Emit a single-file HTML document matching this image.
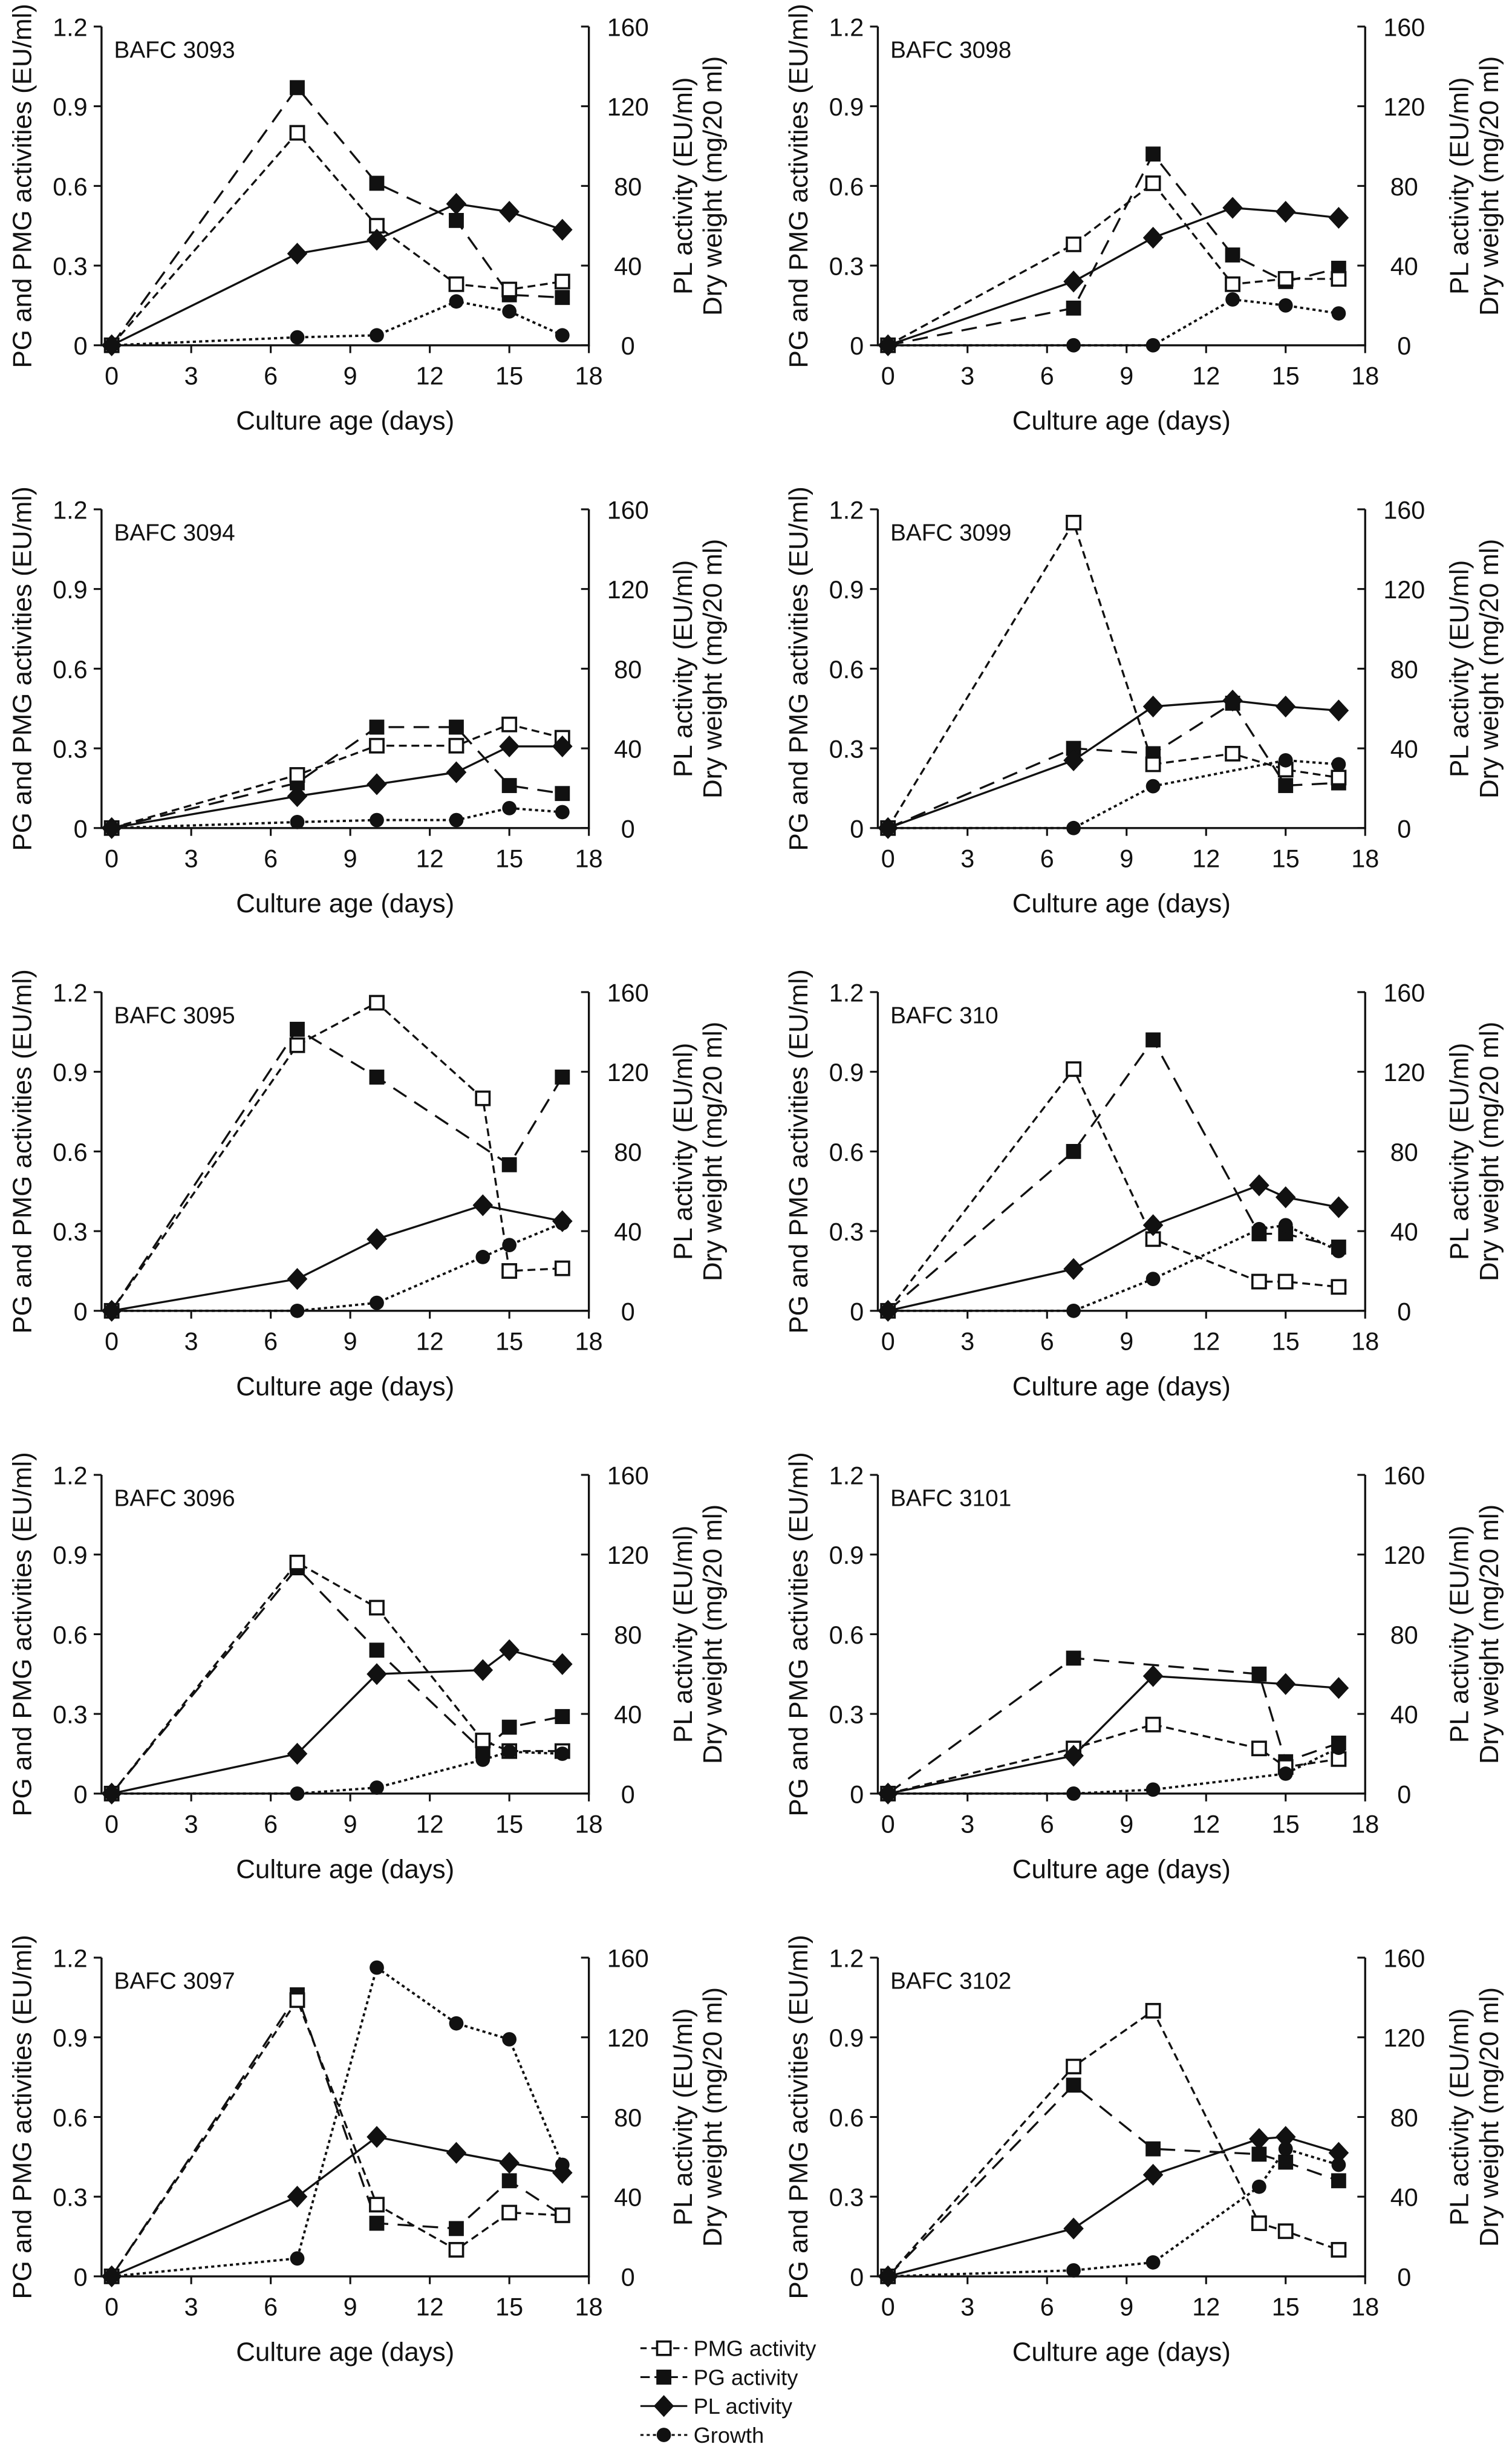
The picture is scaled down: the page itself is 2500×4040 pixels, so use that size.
<!DOCTYPE html>
<html><head><meta charset="utf-8"><style>
html,body{margin:0;padding:0;background:#fff}
svg{display:block}
text{font-family:"Liberation Sans",Arial,sans-serif;fill:#111}
</style></head><body>
<svg id="fig" width="2500" height="4040" viewBox="0 0 968 1564.3" preserveAspectRatio="none" xmlns="http://www.w3.org/2000/svg"></svg>
<script>
const panelNames = ["BAFC 3093","BAFC 3098","BAFC 3094","BAFC 3099","BAFC 3095","BAFC 310","BAFC 3096","BAFC 3101","BAFC 3097","BAFC 3102"];
const panelDays = [
 [0,7,10,13,15,17],[0,7,10,13,15,17],[0,7,10,13,15,17],[0,7,10,13,15,17],[0,7,10,14,15,17],
 [0,7,10,14,15,17],[0,7,10,14,15,17],[0,7,10,14,15,17],[0,7,10,13,15,17],[0,7,10,14,15,17]];
const pmgValues = [
 [0,0.80,0.45,0.23,0.21,0.24],[0,0.38,0.61,0.23,0.25,0.25],[0,0.20,0.31,0.31,0.39,0.34],[0,1.15,0.24,0.28,0.22,0.19],[0,1.00,1.16,0.80,0.15,0.16],
 [0,0.91,0.27,0.11,0.11,0.09],[0,0.87,0.70,0.20,0.16,0.16],[0,0.17,0.26,0.17,0.10,0.13],[0,1.04,0.27,0.10,0.24,0.23],[0,0.79,1.00,0.20,0.17,0.10]];
const pgValues = [
 [0,0.97,0.61,0.47,0.19,0.18],[0,0.14,0.72,0.34,0.24,0.29],[0,0.17,0.38,0.38,0.16,0.13],[0,0.30,0.28,0.47,0.16,0.17],[0,1.06,0.88,null,0.55,0.88],
 [0,0.60,1.02,0.29,0.29,0.24],[0,0.85,0.54,0.16,0.25,0.29],[0,0.51,null,0.45,0.12,0.19],[0,1.06,0.20,0.18,0.36,0.23],[0,0.72,0.48,0.46,0.43,0.36]];
const plValues = [
 [0,46,53,71,67,58],[0,32,54,69,67,64],[0,16,22,28,41,41],[0,34,61,64,61,59],[0,16,36,53,null,45],
 [0,21,43,63,57,52],[0,20,60,62,72,65],[0,19,59,null,55,53],[0,40,70,62,57,52],[0,24,51,69,70,62]];
const growthValues = [
 [0,4,5,22,17,5],[0,0,0,23,20,16],[0,3,4,4,10,8],[0,0,21,null,34,32],[0,0,4,27,33,44],
 [0,0,16,41,43,30],[0,0,3,17,21,20],[0,0,2,null,10,23],[0,9,155,127,119,56],[0,3,7,45,64,56]];
const leftTicks = [0,0.3,0.6,0.9,1.2];
const rightTicks = [0,40,80,120,160];
const xTicks = [0,3,6,9,12,15,18];

const NS="http://www.w3.org/2000/svg";
const svg=document.getElementById('fig');
function mk(tag,attrs,parent){const e=document.createElementNS(NS,tag);for(const k in attrs)e.setAttribute(k,attrs[k]);(parent||svg).appendChild(e);return e;}
function txt(s,attrs,parent){const e=mk('text',attrs,parent);e.textContent=s;return e;}

function marker(g,kind,x,y){
  let m;
  if(kind==='pmg'){m=mk('rect',{x:x-4.3,y:y-4.3,width:8.6,height:8.6,fill:'#fff',stroke:'#111','stroke-width':1.4},g);}
  else if(kind==='pg'){m=mk('rect',{x:x-4.8,y:y-4.8,width:9.6,height:9.6,fill:'#111'},g);}
  else if(kind==='pl'){m=mk('polygon',{points:`${x},${y-7} ${x+6.5},${y} ${x},${y+7} ${x-6.5},${y}`,fill:'#111'},g);}
  else {m=mk('circle',{cx:x,cy:y,r:4.6,fill:'#111'},g);}
  return m;
}

panelNames.forEach((name,i)=>{
  const col=i%2,row=Math.floor(i/2);
  const ox=col*497, y0=221+row*309, yTop=y0-204;
  const axL=65+ox, x0=71.5+ox, x18=377+ox;
  const xs=d=>x0+(x18-x0)*d/18;
  const yl=v=>y0-(y0-yTop)*v/1.2;
  const yr=v=>y0-(y0-yTop)*v/160;
  const g=mk('g',{});
  
  
  const ax=mk('path',{d:`M${axL},${yTop} V${y0} H${x18} V${yTop}`,fill:'none',stroke:'#111','stroke-width':1.3},g);
  
  
  leftTicks.forEach(t=>{
    mk('line',{x1:axL-5,x2:axL,y1:yl(t),y2:yl(t),stroke:'#111','stroke-width':1.2},g);
    const l=txt(String(t),{x:axL-9,y:yl(t)+6,'text-anchor':'end','font-size':16},g);
    
    
  });
  rightTicks.forEach(t=>{
    mk('line',{x1:x18-5,x2:x18,y1:yr(t),y2:yr(t),stroke:'#111','stroke-width':1.2},g);
    const l=txt(String(t),{x:x18+25,y:yr(t)+6,'text-anchor':'middle','font-size':16},g);
    
    
  });
  xTicks.forEach(t=>{
    mk('line',{x1:xs(t),x2:xs(t),y1:y0,y2:y0+5,stroke:'#111','stroke-width':1.2},g);
    const l=txt(String(t),{x:xs(t),y:y0+25,'text-anchor':'middle','font-size':16},g);
    
    
  });
  const xt=txt('Culture age (days)',{x:(axL+x18)/2,y:y0+54,'text-anchor':'middle','font-size':17},g);
  
  
  const yc=(y0+yTop)/2;
  const lt=txt('PG and PMG activities (EU/ml)',{x:0,y:0,'text-anchor':'middle','font-size':17,transform:`translate(${ox+20},${yc}) rotate(-90)`},g);
  
  
  const r1=txt('PL activity (EU/ml)',{x:0,y:0,'text-anchor':'middle','font-size':17,transform:`translate(${x18+66},${yc}) rotate(-90)`},g);
  
  
  const r2=txt('Dry weight (mg/20 ml)',{x:0,y:0,'text-anchor':'middle','font-size':17,transform:`translate(${x18+85},${yc}) rotate(-90)`},g);
  
  
  const pt=txt(name,{x:axL+8,y:yTop+20,'font-size':15},g);
  
  

  const days=panelDays[i];
  const series=[
    ['pg',pgValues[i],yl,'10,6',1.3],
    ['pmg',pmgValues[i],yl,'5,3',1.3],
    ['pl',plValues[i],yr,'',1.3],
    ['growth',growthValues[i],yr,'2,2',1.5]];
  series.forEach(([kind,vals,yf,dash,sw])=>{
    const pts=[];
    vals.forEach((v,k)=>{if(v!==null&&v!==undefined)pts.push([xs(days[k]),yf(v)]);});
    const p=mk('polyline',{points:pts.map(q=>q.join(',')).join(' '),fill:'none',stroke:'#111','stroke-width':sw,'stroke-dasharray':dash},g);
    
    
    pts.forEach(q=>{
      const m=marker(g,kind,q[0],q[1]);
      
      
    });
  });
});

const lg=mk('g',{});


const legendItems=[['pmg','PMG activity','4,3'],['pg','PG activity','6,3'],['pl','PL activity',''],['growth','Growth','2,2']];
legendItems.forEach(([kind,label,dash],k)=>{
  const y=1503+k*18.5;
  const e=mk('g',{},lg);
  
  
  mk('line',{x1:410,x2:440,y1:y,y2:y,stroke:'#111','stroke-width':1.2,'stroke-dasharray':dash},e);
  marker(e,kind,425,y);
  txt(label,{x:444,y:y+5,'font-size':14},e);
});
</script>
</body></html>
